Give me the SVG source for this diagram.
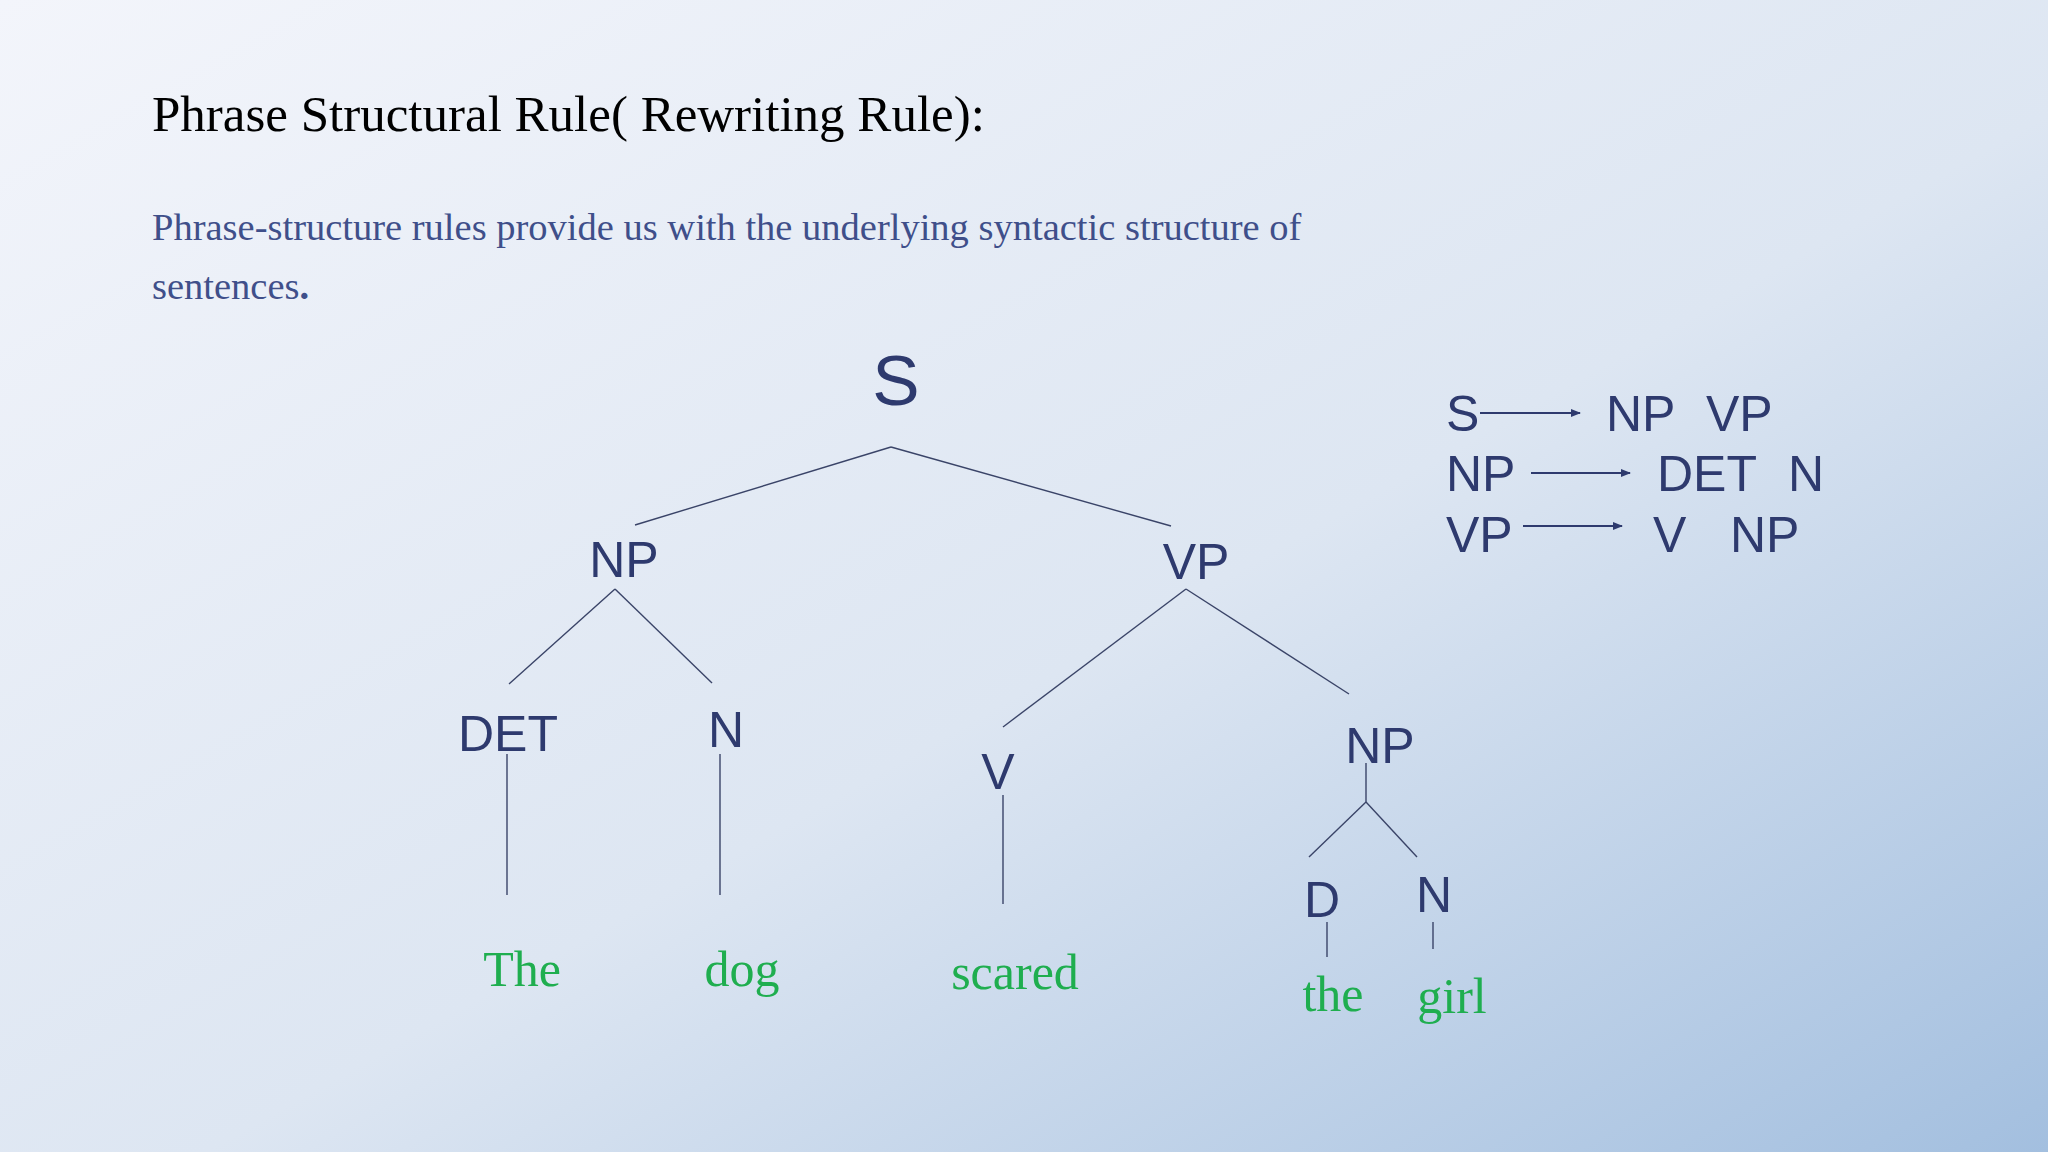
<svg xmlns="http://www.w3.org/2000/svg" width="2048" height="1152" viewBox="0 0 2048 1152">
<defs>
<linearGradient id="bg" x1="0" y1="0" x2="1" y2="1">
<stop offset="0" stop-color="#f3f5fb"/>
<stop offset="0.55" stop-color="#dde6f2"/>
<stop offset="1" stop-color="#a3bfdf"/>
</linearGradient>
<marker id="ah" markerWidth="10" markerHeight="8" refX="9" refY="4" orient="auto" markerUnits="userSpaceOnUse">
<path d="M0,0 L10,4 L0,8 z" fill="#2e3a6e"/>
</marker>
<style>
.lab{font-family:"Liberation Sans",Arial,sans-serif;font-size:50px;fill:#2e3a6e;text-anchor:middle}
.rule{font-family:"Liberation Sans",Arial,sans-serif;font-size:50px;fill:#2e3a6e}
.word{font-family:"Liberation Serif","Times New Roman",serif;font-size:50px;fill:#1fae4f;text-anchor:middle}
.ln{stroke:#3a4468;stroke-width:1.4;fill:none}
.ar{stroke:#2e3a6e;stroke-width:2;marker-end:url(#ah)}
</style>
</defs>
<rect width="2048" height="1152" fill="url(#bg)"/>
<text x="152" y="131" font-family="Liberation Serif,'Times New Roman',serif" font-size="51" fill="#000">Phrase Structural Rule( Rewriting Rule):</text>
<text font-family="Liberation Serif,'Times New Roman',serif" font-size="38.5" fill="#3f4f8a"><tspan x="152" y="240">Phrase-structure rules provide us with the underlying syntactic structure of</tspan><tspan x="152" y="299">sentences<tspan font-weight="bold">.</tspan></tspan></text>
<g id="connectors">
<line class="ln" x1="891" y1="447" x2="635" y2="525"/>
<line class="ln" x1="891" y1="447" x2="1171" y2="526"/>
<line class="ln" x1="615" y1="589" x2="509" y2="684"/>
<line class="ln" x1="615" y1="589" x2="712" y2="683"/>
<line class="ln" x1="1186" y1="589" x2="1003" y2="727"/>
<line class="ln" x1="1186" y1="589" x2="1349" y2="694"/>
<line class="ln" x1="507" y1="754" x2="507" y2="895"/>
<line class="ln" x1="720" y1="754" x2="720" y2="895"/>
<line class="ln" x1="1003" y1="795" x2="1003" y2="904"/>
<line class="ln" x1="1366" y1="763" x2="1366" y2="802"/>
<line class="ln" x1="1366" y1="802" x2="1309" y2="857"/>
<line class="ln" x1="1366" y1="802" x2="1417" y2="857"/>
<line class="ln" x1="1327" y1="922" x2="1327" y2="957"/>
<line class="ln" x1="1433" y1="922" x2="1433" y2="949"/>
<line class="ar" x1="1480" y1="413" x2="1580" y2="413"/>
<line class="ar" x1="1531" y1="473" x2="1630" y2="473"/>
<line class="ar" x1="1523" y1="526" x2="1622" y2="526"/>
</g>
<g id="S"><text class="lab" x="896" y="405" style="font-size:71px">S</text></g>
<g id="NP1"><text class="lab" x="624" y="577">NP</text></g>
<g id="VP"><text class="lab" x="1196" y="579">VP</text></g>
<g id="DET"><text class="lab" x="508" y="751">DET</text></g>
<g id="N1"><text class="lab" x="726" y="747">N</text></g>
<g id="V"><text class="lab" x="998" y="789">V</text></g>
<g id="NP2"><text class="lab" x="1380" y="763">NP</text></g>
<g id="D"><text class="lab" x="1322" y="917">D</text></g>
<g id="N2"><text class="lab" x="1434" y="912">N</text></g>
<g id="w-The"><text class="word" x="522" y="986">The</text></g>
<g id="w-dog"><text class="word" x="742" y="986">dog</text></g>
<g id="w-scared"><text class="word" x="1015" y="989">scared</text></g>
<g id="w-the"><text class="word" x="1333" y="1011">the</text></g>
<g id="w-girl"><text class="word" x="1452" y="1013">girl</text></g>
<g id="rules">
<text class="rule" x="1446" y="431">S</text><text class="rule" x="1606" y="431">NP</text><text class="rule" x="1706" y="431">VP</text>
<text class="rule" x="1446" y="491">NP</text><text class="rule" x="1657" y="491">DET</text><text class="rule" x="1788" y="491">N</text>
<text class="rule" x="1446" y="552">VP</text><text class="rule" x="1653" y="552">V</text><text class="rule" x="1730" y="552">NP</text>
</g>
</svg>
